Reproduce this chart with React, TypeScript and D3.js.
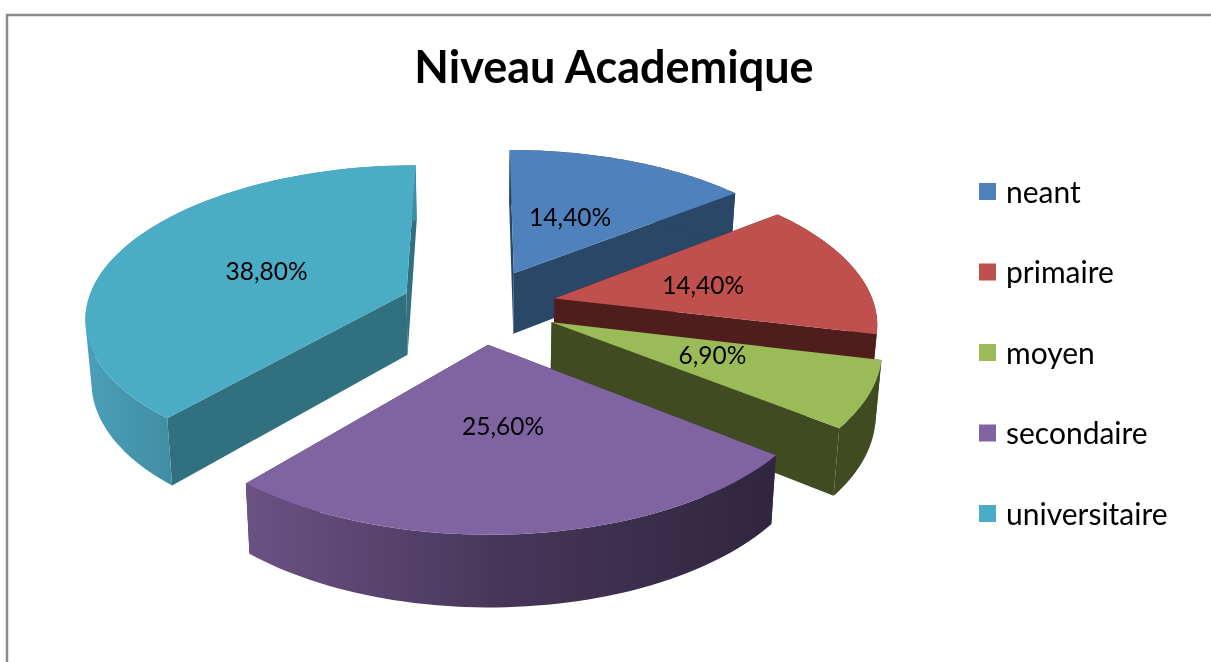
import React from "react";
import * as d3 from "d3";

const title = "Niveau Academique";
const categories = ["neant", "primaire", "moyen", "secondaire", "universitaire"];
const shares = [14.4, 14.4, 6.9, 25.6, 38.8];
const shareLabels = ["14,40%", "14,40%", "6,90%", "25,60%", "38,80%"];
const topColors = ["#4f81bd", "#c0504d", "#9bbb59", "#8064a2", "#4bacc6"];
const wallColors = ["#2a4767", "#4f1e1c", "#404b22", "#352a48", "#31707f"];
const drawOrder = [4, 0, 1, 2, 3];
const explodeBy = [0.25, 0.24, 0.245, 0.25, 0.248];
const labelRadius = [0.48, 0.5, 0.53, 0.5, 0.5];
const labelDx = [-3, -3, -2, -3, 3];
const labelDy = [0, 2, -5, -6, 2];

const W = 1211, H = 662;
const cx = 480, persp = 0.145;
const topPlane = { r: 320, cy: 306, q: 150 };
const botPlane = { r: 315, cy: 368, q: 157 };
const font = "Lato, 'Open Sans', sans-serif";

type Pt = [number, number];
const project = (plane: typeof topPlane, u: number, v: number): Pt => {
  const w = 1 + persp * v;
  return [cx + (plane.r * u) / w, plane.cy - (plane.q * v) / w];
};

const arcs = d3.pie<number>().sort(null).startAngle(0).endAngle(2 * Math.PI)(shares);
const line = d3.line<Pt>().curve(d3.curveLinear);
const poly = (pts: Pt[]) => line(pts)! + "Z";
const oriented = (pts: Pt[]) => (d3.polygonArea(pts) < 0 ? [...pts].reverse() : pts);

const slices = arcs.map((a, i) => {
  const mid = (a.startAngle + a.endAngle) / 2;
  const ax = explodeBy[i] * Math.sin(mid), ay = explodeBy[i] * Math.cos(mid);
  const thetas = d3.range(0, 61).map((k) => a.startAngle + ((a.endAngle - a.startAngle) * k) / 60);
  const rim = (pl: typeof topPlane) => thetas.map((t) => project(pl, ax + Math.sin(t), ay + Math.cos(t)));
  const topRim = rim(topPlane), botRim = rim(botPlane);
  const aT = project(topPlane, ax, ay), aB = project(botPlane, ax, ay);
  const lr = labelRadius[i];
  const lp = project(topPlane, ax + lr * Math.sin(mid), ay + lr * Math.cos(mid));
  return {
    i,
    top: poly([aT, ...topRim]),
    wallStart: poly([aT, topRim[0], botRim[0], aB]),
    wallEnd: poly([aT, topRim[60], botRim[60], aB]),
    outer: d3.range(0, 60)
      .map((k) => poly(oriented([topRim[k], topRim[k + 1], botRim[k + 1], botRim[k]])))
      .join(""),
    label: [lp[0] + labelDx[i], lp[1] + labelDy[i]] as Pt,
  };
});

const legendY = d3.scalePoint<string>().domain(categories).range([192, 514]);

const outerFill = (i: number) => (i === 3 ? "url(#wallPurple)" : i === 4 ? "url(#wallCyan)" : wallColors[i]);

export default function App() {
  return (
    <svg width={W} height={H} viewBox={`0 0 ${W} ${H}`}
      style={{ position: "absolute", left: 0, top: 0, background: "#fff", filter: "blur(0.45px)" }}>
      <defs>
        <linearGradient id="wallPurple" gradientUnits="userSpaceOnUse" x1={248} x2={773} y1={0} y2={0}>
          <stop offset="0" stopColor="#6a5283" />
          <stop offset="0.5" stopColor="#463558" />
          <stop offset="1" stopColor="#30263f" />
        </linearGradient>
        <linearGradient id="wallCyan" gradientUnits="userSpaceOnUse" x1={87} x2={176} y1={0} y2={0}>
          <stop offset="0" stopColor="#4a9fb8" />
          <stop offset="1" stopColor="#3f8da3" />
        </linearGradient>
      </defs>
      <path d={`M7 ${H}V15H${W}`} fill="none" stroke="#8a8a8a" strokeWidth={2.5} />
      {drawOrder.map((i) => {
        const s = slices[i];
        return (
          <g key={categories[i]}>
            <path d={s.wallStart} fill={wallColors[i]} />
            <path d={s.wallEnd} fill={wallColors[i]} />
            <path d={s.outer} fill={outerFill(i)} fillRule="nonzero" />
            <path d={s.top} fill={topColors[i]} />
          </g>
        );
      })}
      {slices.map((s) => (
        <text key={s.i} x={s.label[0]} y={s.label[1]} textAnchor="middle" dominantBaseline="central"
          fontFamily={font} fontSize={24.5} fill="#000">
          {shareLabels[s.i]}
        </text>
      ))}
      <text x={614} y={83} textAnchor="middle" fontFamily={font} fontWeight={700} fontSize={45} fill="#000">
        {title}
      </text>
      {categories.map((c, i) => (
        <g key={c}>
          <rect x={979} y={legendY(c)! - 9} width={17} height={17} fill={topColors[i]} />
          <text x={1006} y={legendY(c)! + 10.5} fontFamily={font} fontSize={30} fill="#000">{c}</text>
        </g>
      ))}
    </svg>
  );
}
